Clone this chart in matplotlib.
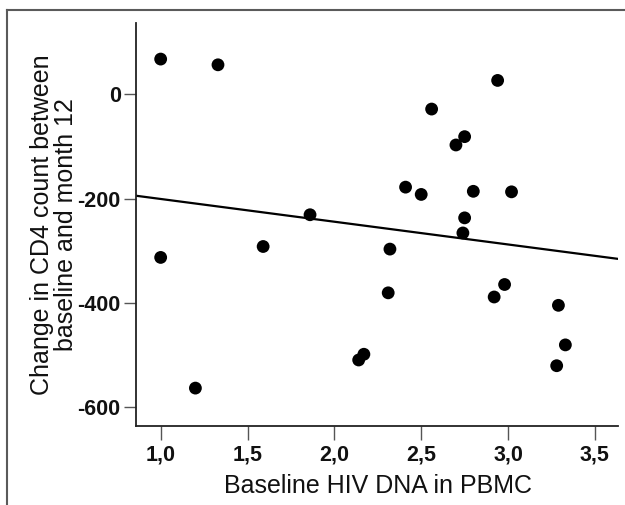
"""
Scatter of CD4 change vs baseline HIV DNA with a linear fit line.
"""
import matplotlib
matplotlib.use("Agg")
import matplotlib.pyplot as plt
from matplotlib.lines import Line2D
import numpy as np

# Data
hiv_dna = [1.00, 1.33, 2.94, 2.56, 2.75, 2.70, 2.41, 2.50, 2.80, 3.02,
           1.86, 2.75, 2.74, 1.00, 1.59, 2.32, 2.31, 2.98, 2.92, 3.29,
           3.33, 3.28, 2.17, 2.14, 1.20]
cd4_change = [68, 57, 27, -28, -81, -97, -178, -192, -186, -187,
              -231, -237, -266, -313, -292, -297, -381, -365, -389, -405,
              -481, -521, -499, -510, -564]

# fitted line (intercept at x=0, slope)
fit_intercept = -157
fit_slope = -43.7

xticks = [1.0, 1.5, 2.0, 2.5, 3.0, 3.5]
xtick_labels = ["1,0", "1,5", "2,0", "2,5", "3,0", "3,5"]
yticks = [0, -200, -400, -600]

plt.rcParams['font.family'] = ['Liberation Sans', 'DejaVu Sans']
plt.rcParams['axes.unicode_minus'] = False

W, H = 625, 505
fig = plt.figure(figsize=(W / 100, H / 100), dpi=100)
ax = fig.add_axes([136 / W, 1 - 426 / H, (618 - 136) / W, (426 - 23) / H])

xlim = (0.858, 3.633)
ylim = (-636.8, 137.3)

ax.scatter(hiv_dna, cd4_change, s=85, color='black', edgecolors='none', zorder=3)

fx = np.array(xlim)
ax.plot(fx, fit_intercept + fit_slope * fx, color='black', linewidth=1.6, zorder=2)

ax.set_xlim(*xlim)
ax.set_ylim(*ylim)
ax.set_xticks(xticks)
ax.set_xticklabels(xtick_labels)
ax.set_yticks(yticks)

for side in ['top', 'right']:
    ax.spines[side].set_visible(False)
for side in ['left', 'bottom']:
    ax.spines[side].set_linewidth(1.3)
    ax.spines[side].set_color('#222222')

ax.tick_params(axis='x', length=10, width=1.0, color='#555555', pad=3,
               labelsize=15.5)
ax.tick_params(axis='y', length=9, width=1.0, color='#555555', pad=2,
               labelsize=15.5)
for lab in ax.get_xticklabels() + ax.get_yticklabels():
    lab.set_fontweight('bold')
    lab.set_color('#111111')

# axis labels
fig.text(377.5 / W, 1 - 493 / H, "Baseline HIV DNA in PBMC", ha='center',
         va='baseline', fontsize=18, color='#111111')
fig.text(54 / W, 1 - 225 / H, "Change in CD4 count between\nbaseline and month 12",
         ha='center', va='center', rotation=90, fontsize=18, linespacing=1.0,
         color='#111111')

# grey frame around the picture
fig.add_artist(Line2D([6.5 / W, 6.5 / W], [0, 1 - 10 / H], transform=fig.transFigure,
                      color='#5a5a5a', linewidth=1.5))
fig.add_artist(Line2D([6.5 / W, 1], [1 - 10 / H, 1 - 10 / H], transform=fig.transFigure,
                      color='#5a5a5a', linewidth=1.5))

fig.savefig("out.png", dpi=100)
